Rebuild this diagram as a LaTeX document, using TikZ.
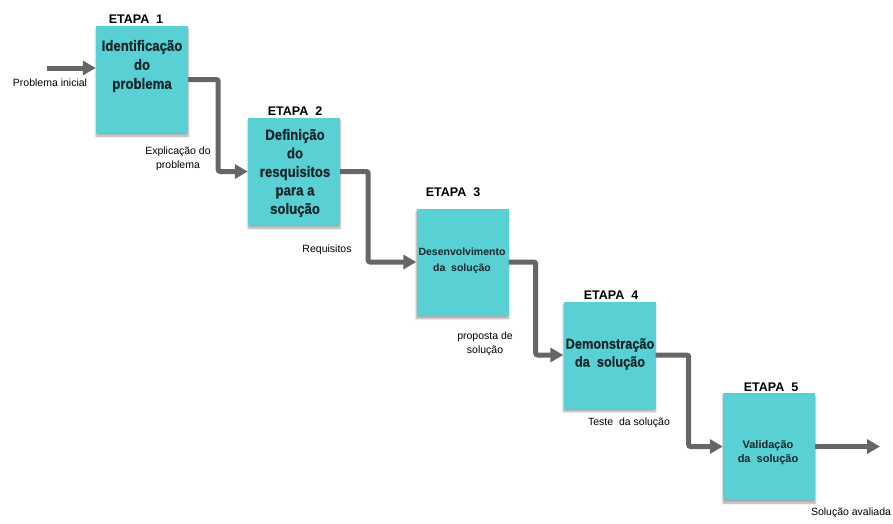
\documentclass[tikz,border=0pt]{standalone}
\usepackage{fontspec}
\setmainfont{Liberation Sans}
\newfontfamily\estreita[FakeStretch=0.88,FakeBold=0.8]{Liberation Sans Bold}
\usetikzlibrary{arrows.meta,shadows.blur}
\definecolor{etapa}{RGB}{88,208,212}
\definecolor{seta}{RGB}{102,102,102}
\definecolor{tinta}{RGB}{22,40,44}
\begin{document}
\begin{tikzpicture}[
		x=1pt, y=-1pt,
		caixa/.style={rectangle, fill=etapa, minimum width=92pt, minimum height=107pt, inner sep=0pt,
			blur shadow={shadow xshift=0pt, shadow yshift=-3pt, shadow blur steps=6, shadow opacity=35}},
		texto/.style={align=center, inner sep=0pt, text=tinta},
		titulo/.style={font=\bfseries\fontsize{12.5}{14}\selectfont},
		rotulo/.style={align=center, font=\fontsize{10.5}{14}\selectfont},
		fluxo/.style={line width=5pt, draw=seta, rounded corners=2pt, -{Triangle[length=13pt,width=14pt]}}
	]
		\useasboundingbox (0,0) rectangle (893,523);

		\node[caixa] (b1) at (142,79.5) {};
		\node[caixa] (b2) at (294,171.5) {};
		\node[caixa] (b3) at (462.5,262) {};
		\node[caixa] (b4) at (609.5,355) {};
		\node[caixa] (b5) at (769,446.5) {};

		\node[texto, font=\estreita\fontsize{15}{19}\selectfont] (t1) at (142,66) {Identificação\\do\\problema};
		\node[texto, font=\estreita\fontsize{15}{18.5}\selectfont] (t2) at (295,173) {Definição\\do\\resquisitos\\para a\\solução};
		\node[texto, font=\bfseries\fontsize{10.5}{16}\selectfont] (t3) at (462,261) {Desenvolvimento\\da~~solução};
		\node[texto, font=\estreita\fontsize{14.5}{18}\selectfont] (t4) at (610,354) {Demonstração\\da~~solução};
		\node[texto, font=\bfseries\fontsize{11}{14}\selectfont] (t5) at (768,453) {Validação\\da~~solução};

		\node[titulo] (e1) at (136,19) {ETAPA~~1};
		\node[titulo] (e2) at (295,111) {ETAPA~~2};
		\node[titulo] (e3) at (453,192) {ETAPA~~3};
		\node[titulo] (e4) at (611,295) {ETAPA~~4};
		\node[titulo] (e5) at (771,387) {ETAPA~~5};

		\node[rotulo] (l0) at (50,83) {Problema inicial};
		\node[rotulo] (l1) at (178,159) {Explicação do\\problema};
		\node[rotulo] (l2) at (327,250) {Requisitos};
		\node[rotulo] (l3) at (485,344) {proposta de\\solução};
		\node[rotulo] (l4) at (629,423) {Teste~~da solução};
		\node[rotulo] (l5) at (851,513) {Solução avaliada};

		\coordinate (entrada) at (47,68);
		\coordinate (saida) at (880,446.5);

		\draw[fluxo] (entrada) -- (entrada -| b1.west);
		\draw[fluxo] (b1.east) -- ++(30,0) |- (b2.west);
		\draw[fluxo] (b2.east) -- ++(28,0) |- (b3.west);
		\draw[fluxo] (b3.east) -- ++(27,0) |- (b4.west);
		\draw[fluxo] (b4.east) -- ++(33,0) |- (b5.west);
		\draw[fluxo] (b5.east) -- (saida);
	\end{tikzpicture}
\end{document}
